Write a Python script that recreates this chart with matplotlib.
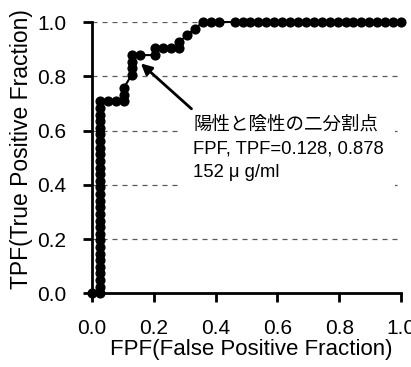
import numpy as np
import matplotlib
matplotlib.use("Agg")
import matplotlib.pyplot as plt

plt.rcParams['font.family'] = ['Liberation Sans', 'Noto Sans CJK JP', 'DejaVu Sans']

# 陰性 39例, 陽性 41例 (ROC の階段の数から読み取り)
n_neg = 39
n_pos = 41

# 各点の偽陽性数 / 真陽性数
fp_count = [0,
            1, 1, 1, 1, 1, 1, 1, 1, 1, 1, 1, 1, 1, 1, 1,
            1, 1, 1, 1, 1, 1, 1, 1, 1, 1, 1, 1, 1, 1, 1,
            2, 3, 4, 4, 4,
            5, 5, 5, 5,
            6, 8, 8, 9, 10, 11, 11, 12, 13, 14, 15, 16,
            18, 19, 20, 21, 22, 23, 24, 25, 26, 27, 28,
            29, 30, 31, 32, 33, 34, 35, 36, 37, 38, 39]
tp_count = [0,
            0, 1, 2, 3, 4, 5, 6, 7, 8, 9, 10, 11, 12, 13, 14,
            15, 16, 17, 18, 19, 20, 21, 22, 23, 24, 25, 26, 27, 28, 29,
            29, 29, 29, 30, 31,
            33, 34, 35, 36,
            36, 36, 37, 37, 37, 37, 38, 39, 40, 41, 41, 41,
            41, 41, 41, 41, 41, 41, 41, 41, 41, 41, 41,
            41, 41, 41, 41, 41, 41, 41, 41, 41, 41, 41]

fpf = np.array(fp_count) / n_neg
tpf = np.array(tp_count) / n_pos

cut_fpf = 0.128
cut_tpf = 0.878
note = "陽性と陰性の二分割点\nFPF, TPF=0.128, 0.878\n152 μ g/ml"

ticks = [0.0, 0.2, 0.4, 0.6, 0.8, 1.0]
tick_labels = ["0.0", "0.2", "0.4", "0.6", "0.8", "1.0"]

fig = plt.figure(figsize=(4.11, 3.67), dpi=100)
ax = fig.add_axes([92/411, 1-293.3/367, 309/411, 271.3/367])

for y in ticks[1:]:
    ax.axhline(y, color='0.35', lw=0.9, ls=(0, (4, 4)), zorder=1)

ax.plot(fpf, tpf, color='black', lw=1.5, marker='o', ms=6.3, clip_on=False, zorder=4)

ax.text(0.327, 0.652, note, fontsize=13.3, va='top', ha='left', linespacing=1.5,
        bbox=dict(facecolor='white', edgecolor='none', pad=8), zorder=2)
ax.annotate("", xy=(cut_fpf, cut_tpf), xytext=(0.322, 0.68),
            arrowprops=dict(arrowstyle='-|>', color='black', lw=2,
                            mutation_scale=16, shrinkA=0, shrinkB=9),
            zorder=3)

ax.set_xlim(0, 1)
ax.set_ylim(0, 1)
ax.set_xticks(ticks)
ax.set_xticklabels(tick_labels)
ax.set_yticks(ticks)
ax.set_yticklabels(tick_labels)
ax.spines['top'].set_visible(False)
ax.spines['right'].set_visible(False)
ax.spines['left'].set_linewidth(2)
ax.spines['bottom'].set_linewidth(2)
ax.tick_params(direction='out', length=6.5, width=2, labelsize=15, pad=12)

ax.set_xlabel("FPF(False Positive Fraction)", fontsize=16)
ax.set_ylabel("TPF(True Positive Fraction)", fontsize=16.5)
ax.xaxis.set_label_coords(0.515, -0.17)
ax.yaxis.set_label_coords(-0.19, 0.53)

fig.savefig("out.png", dpi=100)
